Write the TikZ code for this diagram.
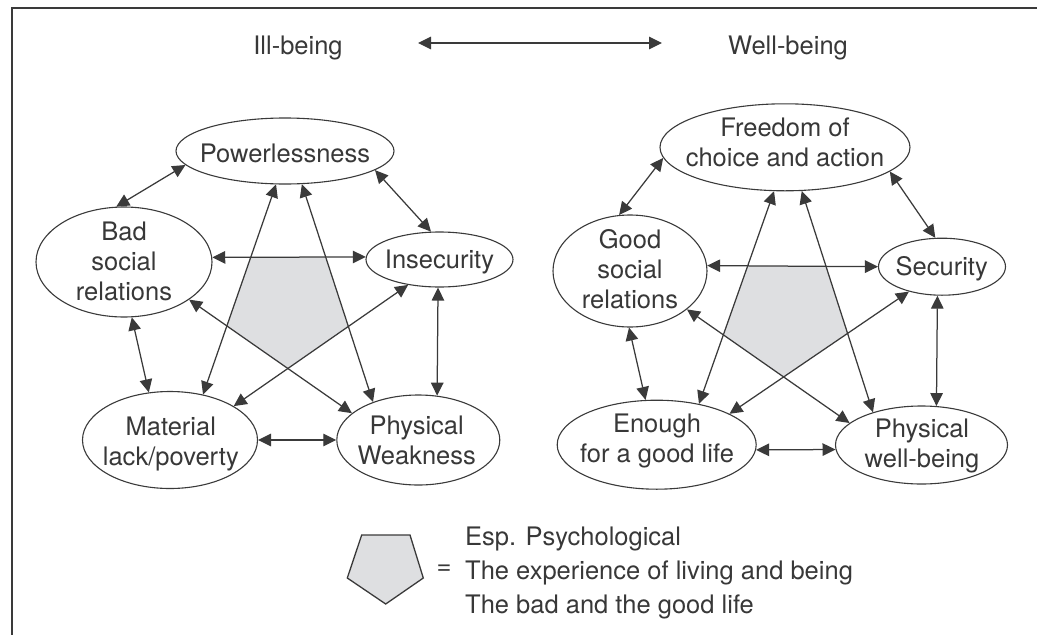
\documentclass[tikz,border=0pt]{standalone}
\usepackage{fontspec}
\setmainfont{TeX Gyre Heros}
\usetikzlibrary{arrows.meta,shapes.geometric}
\definecolor{ink}{HTML}{383838}
\definecolor{lnc}{HTML}{3A3A3A}
\definecolor{pent}{HTML}{DEDFE1}
\newcommand{\mlines}[1]{\begin{tabular}[t]{@{}c@{}}#1\end{tabular}}
\tikzset{
  el/.style={ellipse, draw=lnc, line width=1.1pt, fill=white, inner sep=0pt},
  txt/.style={anchor=base, inner sep=0pt, text=ink, font=\fontsize{25.5}{30}\selectfont},
  arr/.style={<->, >={Triangle[length=13pt,width=12.5pt]}, draw=lnc, line width=1.25pt},
}
\begin{document}
\begin{tikzpicture}[x=1pt,y=-1pt]
\useasboundingbox (0,0) rectangle (1037,635);
% frame
\draw[lnc, line width=1.3pt] (12,635) -- (12,8) -- (1037,8);
% titles
\node[txt] (ill) at (298,54) {Ill-being};
\node[txt] (well) at (788,54) {Well-being};
\coordinate (tl) at (418,43);
\coordinate (tr) at (662,43);
\draw[arr] (tl) -- (tr);
% left ellipses
\node[el, minimum width=218pt, minimum height=66pt] (pow) at (285,151) {};
\node[el, minimum width=176pt, minimum height=110pt] (bad) at (124,262) {};
\node[el, minimum width=147pt, minimum height=55pt] (ins) at (439.5,259.5) {};
\node[el, minimum width=175pt, minimum height=97pt] (mat) at (170,440) {};
\node[el, minimum width=163pt, minimum height=90pt] (phy) at (418.3,440) {};
% right ellipses
\node[el, minimum width=250pt, minimum height=87pt] (fre) at (785,147.3) {};
\node[el, minimum width=154pt, minimum height=112pt] (goo) at (630,271) {};
\node[el, minimum width=127pt, minimum height=57pt] (sec) at (942,266.7) {};
\node[el, minimum width=199pt, minimum height=89pt] (eno) at (656.7,444.7) {};
\node[el, minimum width=172pt, minimum height=78pt] (pwb) at (921.5,445) {};
% left pentagon
\coordinate (a3s) at (bad.3);   \coordinate (a3e) at (ins.178);
\coordinate (a4s) at (mat.54);  \coordinate (a4e) at (pow.255);
\coordinate (a5s) at (pow.297); \coordinate (a5e) at (phy.140);
\coordinate (a6s) at (bad.330); \coordinate (a6e) at (phy.158);
\coordinate (a7s) at (ins.219); \coordinate (a7e) at (mat.28);
\fill[pent] (intersection of a3s--a3e and a4s--a4e)
  -- (intersection of a3s--a3e and a5s--a5e)
  -- (intersection of a5s--a5e and a7s--a7e)
  -- (intersection of a7s--a7e and a6s--a6e)
  -- (intersection of a6s--a6e and a4s--a4e) -- cycle;
% right pentagon
\coordinate (b3s) at (goo.4);   \coordinate (b3e) at (sec.180);
\coordinate (b4s) at (eno.44);  \coordinate (b4e) at (fre.256);
\coordinate (b5s) at (pwb.146); \coordinate (b5e) at (fre.291);
\coordinate (b6s) at (goo.326); \coordinate (b6e) at (pwb.163);
\coordinate (b7s) at (sec.217); \coordinate (b7e) at (eno.23);
\fill[pent] (intersection of b3s--b3e and b4s--b4e)
  -- (intersection of b3s--b3e and b5s--b5e)
  -- (intersection of b5s--b5e and b7s--b7e)
  -- (intersection of b7s--b7e and b6s--b6e)
  -- (intersection of b6s--b6e and b4s--b4e) -- cycle;
% left arrows
\draw[arr] (bad.98) -- (pow.188);
\draw[arr] (pow.348) -- (ins.107);
\draw[arr] (a3s) -- (a3e);
\draw[arr] (a4s) -- (a4e);
\draw[arr] (a5s) -- (a5e);
\draw[arr] (a6s) -- (a6e);
\draw[arr] (a7s) -- (a7e);
\draw[arr] (ins.267) -- (phy.67);
\draw[arr] (bad.278) -- (mat.114);
\draw[arr] (mat.0) -- (phy.180);
% right arrows
\draw[arr] (goo.101) -- (fre.185);
\draw[arr] (fre.347) -- (sec.103);
\draw[arr] (b3s) -- (b3e);
\draw[arr] (b4s) -- (b4e);
\draw[arr] (b5s) -- (b5e);
\draw[arr] (b6s) -- (b6e);
\draw[arr] (b7s) -- (b7e);
\draw[arr] (sec.261) -- (pwb.69);
\draw[arr] (goo.269) -- (eno.104);
\draw[arr] (eno.357) -- (pwb.183);
% texts
\node[txt] (pow-t) at (285,162) {Powerlessness};
\node[txt] (bad-t) at (124,240.7) {\mlines{Bad\\social\\relations}};
\node[txt] (ins-t) at (439.5,268.3) {Insecurity};
\node[txt] (mat-t) at (170.8,435) {\mlines{Material\\lack/poverty}};
\node[txt] (phy-t) at (416.7,434) {\mlines{Physical\\Weakness}};
\node[txt] (fre-t) at (785,136.7) {\mlines{Freedom of\\choice and action}};
\node[txt] (goo-t) at (630,248.3) {\mlines{Good\\social\\relations}};
\node[txt] (sec-t) at (941.7,275) {Security};
\node[txt] (eno-t) at (657,432.7) {\mlines{Enough\\for a good life}};
\node[txt] (pwb-t) at (922,437.3) {\mlines{Physical\\well-being}};
% legend
\draw[fill=pent, draw=lnc, line width=1.3pt] (361.7,535) -- (410,535) -- (423.3,578) -- (385.7,604) -- (347.3,578) -- cycle;
\node[txt, anchor=center] (eq) at (444,570) {=};
\node[txt, anchor=base west, font=\fontsize{25.5}{34}\selectfont] (leg) at (465,545)
  {\begin{tabular}[t]{@{}l@{}}Esp. Psychological\\The experience of living and being\\The bad and the good life\end{tabular}};
\end{tikzpicture}
\end{document}
